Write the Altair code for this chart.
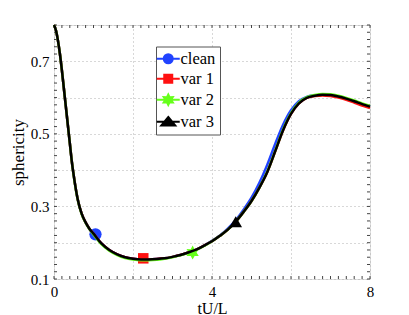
import altair as alt
import pandas as pd

# ---- data ----
t = [0, 0.05, 0.1, 0.15, 0.2, 0.25, 0.3, 0.35, 0.4, 0.45, 0.5, 0.6, 0.7, 0.8, 0.9,
     1.0, 1.2, 1.4, 1.6, 1.8, 2.0, 2.2, 2.4, 2.6, 2.8, 3.0, 3.2, 3.4, 3.6, 3.8, 4.0,
     4.2, 4.4, 4.6, 4.8, 5.0, 5.2, 5.4, 5.6, 5.8, 6.0, 6.2, 6.4, 6.6, 6.8, 7.0, 7.2,
     7.4, 7.6, 7.8, 8.0]

clean = [0.800, 0.785, 0.757, 0.720, 0.675, 0.625, 0.575, 0.525, 0.475, 0.425, 0.385,
         0.320, 0.280, 0.256, 0.238, 0.225, 0.198, 0.180, 0.168, 0.160, 0.156, 0.154,
         0.154, 0.155, 0.157, 0.161, 0.166, 0.173, 0.181, 0.192, 0.205, 0.220, 0.239,
         0.262, 0.291, 0.324, 0.365, 0.415, 0.472, 0.525, 0.565, 0.590, 0.602, 0.606,
         0.608, 0.607, 0.603, 0.597, 0.590, 0.582, 0.575]
var1 = [0.800, 0.785, 0.757, 0.720, 0.675, 0.625, 0.575, 0.525, 0.475, 0.425, 0.385,
        0.320, 0.280, 0.256, 0.238, 0.225, 0.198, 0.180, 0.168, 0.160, 0.156, 0.154,
        0.154, 0.155, 0.157, 0.161, 0.166, 0.173, 0.181, 0.192, 0.204, 0.219, 0.236,
        0.258, 0.285, 0.315, 0.352, 0.395, 0.452, 0.510, 0.555, 0.584, 0.599, 0.604,
        0.606, 0.604, 0.600, 0.594, 0.586, 0.578, 0.571]
var2 = [0.800, 0.785, 0.757, 0.720, 0.675, 0.625, 0.575, 0.525, 0.475, 0.425, 0.384,
        0.319, 0.279, 0.255, 0.237, 0.223, 0.196, 0.178, 0.166, 0.158, 0.154, 0.152,
        0.152, 0.153, 0.156, 0.160, 0.165, 0.172, 0.180, 0.191, 0.204, 0.219, 0.236,
        0.258, 0.285, 0.315, 0.352, 0.396, 0.453, 0.512, 0.557, 0.586, 0.601, 0.607,
        0.610, 0.609, 0.605, 0.599, 0.592, 0.584, 0.577]
var3 = [0.800, 0.785, 0.757, 0.720, 0.675, 0.625, 0.575, 0.525, 0.475, 0.425, 0.385,
        0.320, 0.280, 0.256, 0.238, 0.225, 0.198, 0.180, 0.168, 0.160, 0.156, 0.154,
        0.154, 0.155, 0.157, 0.161, 0.166, 0.173, 0.181, 0.192, 0.204, 0.219, 0.236,
        0.258, 0.285, 0.315, 0.352, 0.395, 0.452, 0.510, 0.555, 0.584, 0.599, 0.605,
        0.608, 0.607, 0.603, 0.597, 0.590, 0.582, 0.575]

series_names = ["clean", "var 1", "var 2", "var 3"]
series_values = [clean, var1, var2, var3]
series_colors = ["#2143ff", "#ff1010", "#66ff1a", "#000000"]
marker_t = [1.05, 2.26, 3.51, 4.60]
marker_y = [0.223, 0.157, 0.173, 0.258]

x_grid = [0, 2, 4, 6, 8]
x_labels = [0, 4, 8]
y_grid = [0.1, 0.2, 0.3, 0.4, 0.5, 0.6, 0.7, 0.8]
y_labels = [0.1, 0.3, 0.5, 0.7]
x_minor = [round(0.2 * i, 2) for i in range(41)]
y_minor = [round(0.1 + 0.02 * i, 3) for i in range(36)]

# ---- styles ----
W, H = 316, 254
SERIF = "Liberation Serif"
STAR = ("M0,-1L0.275,-0.476L0.866,-0.5L0.55,0L0.866,0.5L0.275,0.476L0,1L-0.275,0.476"
        "L-0.866,0.5L-0.55,0L-0.866,-0.5L-0.275,-0.476Z")
marker_shapes = ["circle", "square", STAR, "triangle-up"]
marker_sizes = [150, 110, 200, 160]

LEG_LINE = "M-2.3,0H2.3"
leg_paths = [
    LEG_LINE + "M-0.9,0A0.9,0.9 0 1,0 0.9,0A0.9,0.9 0 1,0 -0.9,0Z",
    LEG_LINE + "M-0.8,-0.8H0.8V0.8H-0.8Z",
    LEG_LINE + "M0,-1.05L0.28,-0.48L0.9,-0.52L0.55,0L0.9,0.52L0.28,0.48L0,1.05L-0.28,0.48"
               "L-0.9,0.52L-0.55,0L-0.9,-0.52L-0.28,-0.48Z",
    LEG_LINE + "M0,-0.95L1.4,0.75H-1.4Z",
]

rows = []
for name, vals in zip(series_names, series_values):
    for tt, v in zip(t, vals):
        rows.append({"t": tt, "y": v, "series": name})
lines_df = pd.DataFrame(rows)
markers_df = pd.DataFrame({"t": marker_t, "y": marker_y, "series": series_names})

x_scale = alt.Scale(domain=[0, 8], nice=False, zero=False)
y_scale = alt.Scale(domain=[0.1, 0.8], nice=False, zero=False)

x_axis = alt.Axis(
    values=x_grid, title="tU/L", grid=True, gridColor="#b0b0b0", gridDash=[1, 3],
    gridWidth=1, ticks=False, tickSize=0, domain=False,
    labelExpr="indexof([0,4,8], datum.value) >= 0 ? datum.label : ''",
    labelFont=SERIF, labelFontSize=15, labelColor="#000", labelPadding=5,
    labelFlush=False, labelOverlap=False,
    titleFont=SERIF, titleFontSize=16, titleFontWeight="normal", titleColor="#000",
    titleY=21, titleBaseline="top",
)
y_axis = alt.Axis(
    values=y_grid, title="sphericity", grid=True, gridColor="#b0b0b0", gridDash=[1, 3],
    gridWidth=1, ticks=False, tickSize=0, domain=False,
    labelExpr="indexof([0.1,0.3,0.5,0.7], round(datum.value*10)/10) >= 0 ? format(datum.value, '.1f') : ''",
    labelFont=SERIF, labelFontSize=15, labelColor="#000", labelPadding=5,
    labelFlush=False, labelOverlap=False,
    titleFont=SERIF, titleFontSize=17, titleFontWeight="normal", titleColor="#000",
    titlePadding=3,
)

x_enc = alt.X("t:Q", scale=x_scale, axis=x_axis)
y_enc = alt.Y("y:Q", scale=y_scale, axis=y_axis)

legend = alt.Legend(
    title=None, orient="none", legendX=102, legendY=21.5,
    labelFont=SERIF, labelFontSize=16.5, labelColor="#000",
    padding=4, rowPadding=3, labelOffset=4,
    symbolSize=100, symbolStrokeWidth=2, symbolOpacity=1,
    strokeColor="#555", fillColor="#ffffff", cornerRadius=0,
)
col_scale = alt.Scale(domain=series_names, range=series_colors)
legend_layer = alt.Chart(markers_df).transform_filter("false").mark_point(
    filled=True, opacity=1
).encode(
    x=x_enc, y=y_enc,
    fill=alt.Fill("series:N", scale=col_scale, legend=legend),
    stroke=alt.Stroke("series:N", scale=col_scale, legend=legend),
    shape=alt.Shape("series:N", scale=alt.Scale(domain=series_names, range=leg_paths),
                    legend=legend),
)

layers = []
for i, name in enumerate(series_names):
    ln = alt.Chart(lines_df).transform_filter(alt.datum.series == name).mark_line(
        strokeWidth=2.5, interpolate="monotone", color=series_colors[i]
    ).encode(x=x_enc, y=y_enc)
    pt = alt.Chart(markers_df).transform_filter(alt.datum.series == name).mark_point(
        filled=True, opacity=1, color=series_colors[i]
    ).encode(x=x_enc, y=y_enc,
             shape=alt.value(marker_shapes[i]), size=alt.value(marker_sizes[i]))
    layers += [ln, pt]

tick_color = "#444"
xminor_df = pd.DataFrame({"t": x_minor})
yminor_df = pd.DataFrame({"y": y_minor})
bottom_ticks = alt.Chart(xminor_df).mark_rule(color=tick_color, strokeWidth=1).encode(
    x=x_enc, y=alt.value(H), y2=alt.value(H - 3))
top_ticks = alt.Chart(xminor_df).mark_rule(color=tick_color, strokeWidth=1).encode(
    x=x_enc, y=alt.value(0), y2=alt.value(3))
left_ticks = alt.Chart(yminor_df).mark_rule(color=tick_color, strokeWidth=1).encode(
    y=y_enc, x=alt.value(0), x2=alt.value(3))
right_ticks = alt.Chart(yminor_df).mark_rule(color=tick_color, strokeWidth=1).encode(
    y=y_enc, x=alt.value(W), x2=alt.value(W - 3))

chart = alt.layer(bottom_ticks, top_ticks, left_ticks, right_ticks, *layers,
                  legend_layer).properties(
    width=W, height=H,
    autosize=alt.AutoSizeParams(type="none"),
    padding={"left": 46, "top": 17, "right": 20, "bottom": 38},
).configure_view(stroke="#222", strokeWidth=1).configure(background="#ffffff")

chart.save("out.html", embed_options={"renderer": "svg", "actions": False})
